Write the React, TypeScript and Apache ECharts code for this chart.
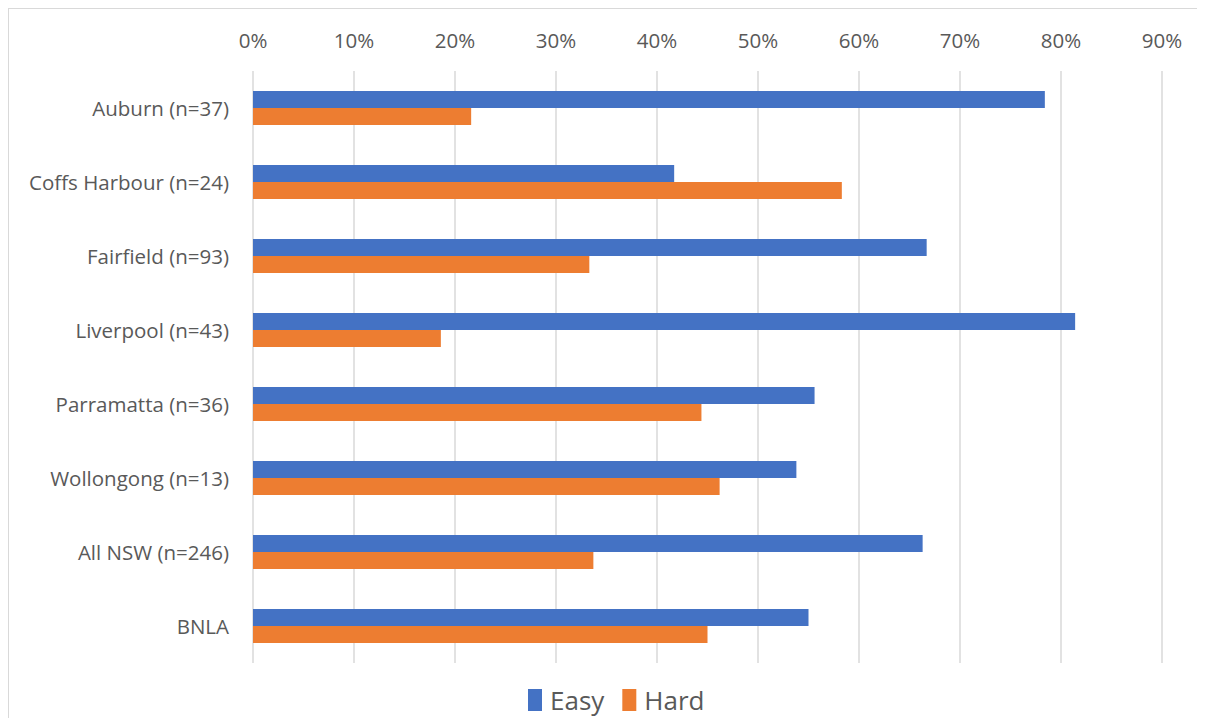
import React, { useEffect, useRef } from "react";
import * as echarts from "echarts";

const categories = [
  "Auburn (n=37)",
  "Coffs Harbour (n=24)",
  "Fairfield (n=93)",
  "Liverpool (n=43)",
  "Parramatta (n=36)",
  "Wollongong (n=13)",
  "All NSW (n=246)",
  "BNLA",
];
const easyValues = [78.4, 41.7, 66.7, 81.4, 55.6, 53.8, 66.3, 55.0];
const hardValues = [21.6, 58.3, 33.3, 18.6, 44.4, 46.2, 33.7, 45.0];
const seriesNames = ["Easy", "Hard"];

export default function App() {
  const ref = useRef<HTMLDivElement>(null);
  useEffect(() => {
    if (!ref.current) return;
    const chart = echarts.init(ref.current, undefined, { renderer: "svg" });
    const font = "Open Sans";
    chart.setOption({
      animation: false,
      backgroundColor: "#ffffff",
      textStyle: { fontFamily: font },
      legend: {
        data: seriesNames,
        left: 514,
        top: 673,
        itemWidth: 14,
        itemHeight: 22,
        itemGap: 18,
        icon: "rect",
        textStyle: { fontFamily: font, fontSize: 26, color: "#595959", padding: [0, 0, 0, 3] },
      },
      grid: { left: 244, top: 62, width: 909, height: 592, containLabel: false },
      xAxis: {
        type: "value",
        position: "top",
        min: 0,
        max: 90,
        interval: 10,
        axisLine: { show: false },
        axisTick: { show: false },
        axisLabel: {
          formatter: "{value}%",
          color: "#595959",
          fontSize: 20.5,
          fontFamily: font,
          margin: 21,
        },
        splitLine: { show: true, lineStyle: { color: "#d9d9d9", width: 1.5 } },
      },
      yAxis: {
        type: "category",
        data: categories,
        inverse: true,
        axisLine: { show: false },
        axisTick: { show: false },
        axisLabel: { color: "#595959", fontSize: 20.5, fontFamily: font, margin: 24 },
      },
      series: [
        {
          name: seriesNames[0],
          type: "bar",
          data: easyValues,
          itemStyle: { color: "#4472C4" },
          barGap: "0%",
          barCategoryGap: "54%",
        },
        {
          name: seriesNames[1],
          type: "bar",
          data: hardValues,
          itemStyle: { color: "#ED7D31" },
          barGap: "0%",
          barCategoryGap: "54%",
        },
      ],
    });
    return () => chart.dispose();
  }, []);
  return (
    <div
      ref={ref}
      style={{
        width: 1197,
        height: 710,
        borderTop: "1.5px solid #d9d9d9",
        borderLeft: "1.5px solid #d9d9d9",
        boxSizing: "border-box",
      }}
    />
  );
}
